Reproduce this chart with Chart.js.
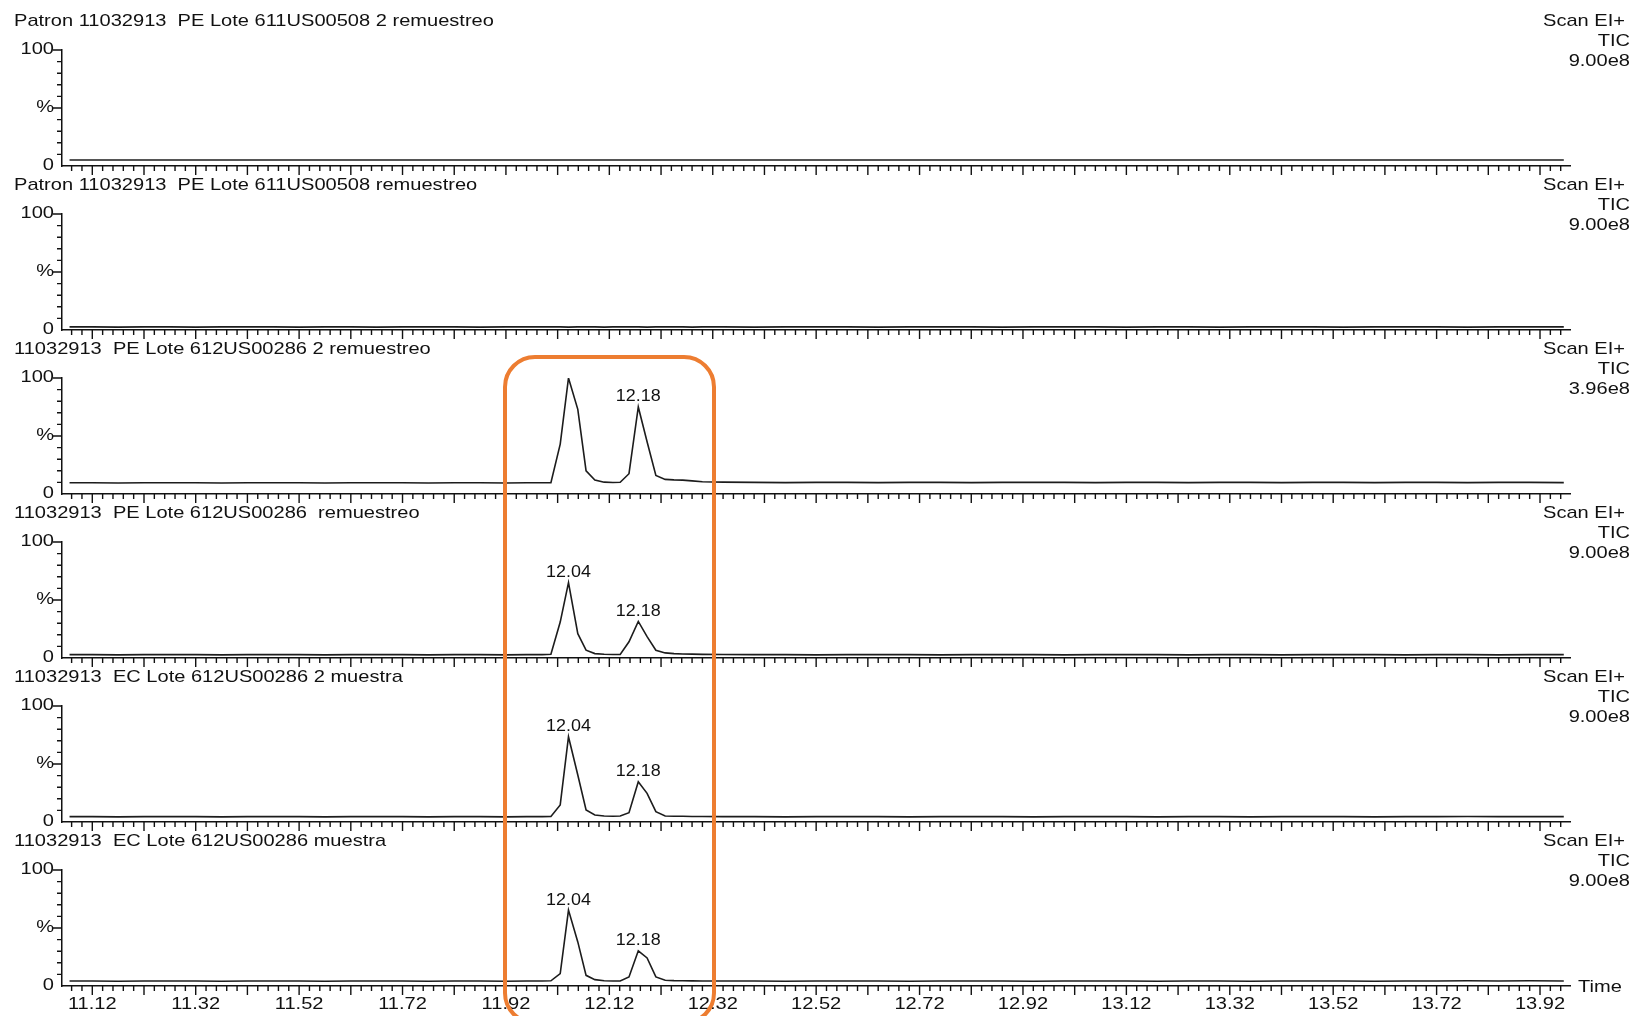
<!DOCTYPE html>
<html>
<head>
<meta charset="utf-8">
<title>TIC 11032913</title>
<script src="https://cdn.jsdelivr.net/npm/chart.js@4.4.1/dist/chart.umd.min.js"></script>
<style>
  html, body { margin: 0; padding: 0; background: #fff; overflow: hidden; }
  #page { position: relative; width: 1636px; height: 1016px; }
  #page canvas { position: absolute; left: 0; }
  #box {
    position: absolute; left: 503px; top: 355px; width: 213px; height: 670px;
    border: 4px solid #ED7D31; border-radius: 32px; box-sizing: border-box;
    pointer-events: none;
  }
</style>
</head>
<body>
<div id="page"><div id="box"></div></div>
<script>
// Retention times (min) shared by every trace
const scanTimes = [
  11.076, 11.12, 11.17, 11.22, 11.27, 11.32, 11.37, 11.42, 11.47, 11.52,
  11.57, 11.62, 11.67, 11.72, 11.77, 11.82, 11.87, 11.92, 11.96, 11.99,
  12.007, 12.025, 12.041, 12.059, 12.075, 12.092, 12.110, 12.127, 12.141, 12.158,
  12.176, 12.193, 12.210, 12.228, 12.245, 12.262, 12.280, 12.300,
  12.34, 12.40, 12.46, 12.52, 12.58, 12.64, 12.70, 12.76, 12.82, 12.88,
  12.94, 13.00, 13.06, 13.12, 13.18, 13.24, 13.30, 13.36, 13.42, 13.48,
  13.54, 13.60, 13.66, 13.72, 13.78, 13.84, 13.90, 13.966
];

// Relative intensity (%) of each TIC trace
const ticPatron2 = [
  5.2, 5.2, 5.2, 5.2, 5.2, 5.2, 5.2, 5.2, 5.2, 5.2, 5.2, 5.2, 5.2, 5.2, 5.2, 5.2, 5.2, 5.2, 5.2, 5.2,
  5.2, 5.2, 5.2, 5.2, 5.2, 5.2, 5.2, 5.2, 5.2, 5.2, 5.2, 5.2, 5.2, 5.2, 5.2, 5.2, 5.2, 5.2,
  5.2, 5.2, 5.2, 5.2, 5.2, 5.2, 5.2, 5.2, 5.2, 5.2, 5.2, 5.2, 5.2, 5.2, 5.2, 5.2, 5.2, 5.2,
  5.2, 5.2, 5.2, 5.2, 5.2, 5.2, 5.2, 5.2, 5.2, 5.2
];
const ticPatron1 = [
  2.7, 2.7, 2.5, 2.7, 2.7, 2.5, 2.7, 2.7, 2.7, 2.5, 2.7, 2.7, 2.5, 2.7, 2.7, 2.7, 2.5, 2.7, 2.7, 2.7,
  2.7, 2.7, 2.5, 2.7, 2.7, 2.7, 2.5, 2.7, 2.7, 2.7, 2.7, 2.5, 2.7, 2.7, 2.7, 2.7, 2.5, 2.7,
  2.7, 2.5, 2.7, 2.7, 2.7, 2.5, 2.7, 2.7, 2.7, 2.5, 2.7, 2.7, 2.7, 2.5, 2.7, 2.7, 2.5, 2.7,
  2.7, 2.7, 2.5, 2.7, 2.7, 2.7, 2.5, 2.7, 2.7, 2.7
];
const ticPE2 = [
  9.7, 9.7, 9.5, 9.7, 9.7, 9.7, 9.5, 9.7, 9.7, 9.7, 9.5, 9.7, 9.7, 9.7, 9.5, 9.7, 9.7, 9.5, 9.7, 9.7,
  9.7, 43, 100, 73, 20, 12, 10.2, 9.9, 10.1, 17.5, 75, 45, 16, 12.6, 12.2, 12, 11.3, 10.6,
  10.2, 10, 9.8, 10, 10, 9.8, 10, 10, 9.8, 10, 10, 10, 9.8, 10, 10, 9.8, 10, 10,
  9.8, 10, 10, 9.8, 10, 10, 9.8, 10, 10, 9.8
];
const ticPE1 = [
  2.9, 2.9, 2.7, 2.9, 2.9, 2.9, 2.7, 2.9, 2.9, 2.9, 2.7, 2.9, 2.9, 2.9, 2.7, 2.9, 2.9, 2.7, 2.9, 2.9,
  3.2, 31, 65, 21, 6.7, 3.8, 3.2, 3.0, 3.0, 14, 31.5, 18.4, 6.7, 4.4, 3.8, 3.5, 3.3, 3.1,
  3.0, 2.9, 2.9, 2.7, 2.9, 2.9, 2.9, 2.7, 2.9, 2.9, 2.9, 2.7, 2.9, 2.9, 2.9, 2.7, 2.9, 2.9,
  2.7, 2.9, 2.9, 2.9, 2.7, 2.9, 2.9, 2.7, 2.9, 2.9
];
const ticEC2 = [
  4.6, 4.6, 4.4, 4.6, 4.6, 4.6, 4.4, 4.6, 4.6, 4.6, 4.4, 4.6, 4.6, 4.6, 4.4, 4.6, 4.6, 4.4, 4.6, 4.6,
  4.8, 14.7, 73.5, 40.5, 10.3, 6, 5.2, 5.0, 5.2, 8, 34.7, 24.7, 8.9, 5.2, 5.0, 4.9, 4.8, 4.7,
  4.6, 4.6, 4.4, 4.6, 4.6, 4.6, 4.4, 4.6, 4.6, 4.6, 4.4, 4.6, 4.6, 4.6, 4.4, 4.6, 4.6, 4.4,
  4.6, 4.6, 4.6, 4.4, 4.6, 4.6, 4.8, 4.6, 4.6, 4.6
];
const ticEC1 = [
  4.3, 4.3, 4.1, 4.3, 4.3, 4.3, 4.1, 4.3, 4.3, 4.3, 4.1, 4.3, 4.3, 4.3, 4.1, 4.3, 4.3, 4.1, 4.3, 4.3,
  4.5, 10.7, 65.4, 38, 9.2, 5.5, 4.5, 4.3, 4.3, 7.8, 30.3, 24.2, 7.8, 4.9, 4.6, 4.5, 4.4, 4.3,
  4.3, 4.3, 4.1, 4.3, 4.3, 4.3, 4.1, 4.3, 4.3, 4.3, 4.1, 4.3, 4.3, 4.3, 4.1, 4.3, 4.3, 4.1,
  4.3, 4.3, 4.3, 4.1, 4.3, 4.3, 4.5, 4.3, 4.5, 4.3
];

const panelTitles = [
  'Patron 11032913  PE Lote 611US00508 2 remuestreo',
  'Patron 11032913  PE Lote 611US00508 remuestreo',
  '11032913  PE Lote 612US00286 2 remuestreo',
  '11032913  PE Lote 612US00286  remuestreo',
  '11032913  EC Lote 612US00286 2 muestra',
  '11032913  EC Lote 612US00286 muestra'
];
const panelSeries = [ticPatron2, ticPatron1, ticPE2, ticPE1, ticEC2, ticEC1];
const fullScale = ['9.00e8', '9.00e8', '3.96e8', '9.00e8', '9.00e8', '9.00e8'];
const scanMode = 'Scan EI+';
const traceType = 'TIC';
// Retention times printed above the apexes
const peakLabelTimes = [[], [], [12.18], [12.04, 12.18], [12.04, 12.18], [12.04, 12.18]];
const xTickLabels = ['11.12', '11.32', '11.52', '11.72', '11.92', '12.12', '12.32', '12.52',
                     '12.72', '12.92', '13.12', '13.32', '13.52', '13.72', '13.92'];
const yTickLabels = { 100: '100', 50: '%', 0: '0' };

const X_MIN = 11.0614, X_MAX = 13.978;
const FONT = '"Liberation Sans", Arial, Helvetica, sans-serif';
const INK = '#111';
const PANEL_STEP = 164, PANEL_TOP = 50, PANEL_H = 116;
const WIDE = 1.18;   // printed lettering is a little wider than regular Arial

Chart.defaults.font.family = FONT;
Chart.defaults.color = INK;

// minor ticks every 0.02 min, long ticks every 0.1 min
const xTickValues = [];
for (let i = 0; i <= 144; i++) xTickValues.push(+(11.08 + 0.02 * i).toFixed(2));
const isMajorX = v => Math.abs((v - 11.12) / 0.1 - Math.round((v - 11.12) / 0.1)) < 1e-6;

const page = document.getElementById('page');
const box = document.getElementById('box');

// draws text horizontally widened around its anchor point
function wideText(ctx, text, x, y, align, sx) {
  ctx.save();
  ctx.translate(x, y);
  ctx.scale(sx, 1);
  ctx.textAlign = align;
  ctx.fillText(text, 0, 0);
  ctx.restore();
}

function makePanel(k) {
  const last = k === panelSeries.length - 1;
  const H = last ? 196 : 180;
  const canvas = document.createElement('canvas');
  canvas.width = 1636; canvas.height = H;
  canvas.style.top = (PANEL_STEP * k) + 'px';
  canvas.style.width = '1636px'; canvas.style.height = H + 'px';
  page.insertBefore(canvas, box);

  const series = panelSeries[k];

  const axisMarks = {
    id: 'axisMarks',
    afterDraw(chart) {
      const { ctx, chartArea: a } = chart;
      const xs = chart.scales.x, ys = chart.scales.y;
      ctx.save();
      ctx.strokeStyle = INK;
      ctx.lineWidth = 1.4;
      ctx.beginPath();
      xs.ticks.forEach(t => {
        const px = xs.getPixelForValue(t.value);
        ctx.moveTo(px, a.bottom);
        ctx.lineTo(px, a.bottom + (isMajorX(t.value) ? 9 : 5));
      });
      ys.ticks.forEach(t => {
        if (t.value === 0) return;
        const py = ys.getPixelForValue(t.value);
        ctx.moveTo(a.left, py);
        ctx.lineTo(a.left - (t.value === 100 || t.value === 50 ? 9 : 5), py);
      });
      ctx.stroke();

      ctx.fillStyle = INK;
      ctx.font = '17px ' + FONT;
      ctx.textBaseline = 'middle';
      ys.ticks.forEach(t => {
        const lbl = yTickLabels[t.value];
        if (lbl === undefined) return;
        wideText(ctx, lbl, a.left - 8, ys.getPixelForValue(t.value) - 0.5, 'right', WIDE);
      });
      if (last) {
        xTickLabels.forEach(l => {
          wideText(ctx, l, xs.getPixelForValue(parseFloat(l)), a.bottom + 18, 'center', WIDE);
        });
        wideText(ctx, 'Time', a.right + 8, a.bottom + 1, 'left', WIDE);
      }
      ctx.restore();
    }
  };

  const panelText = {
    id: 'panelText',
    afterDraw(chart) {
      const { ctx } = chart;
      const xs = chart.scales.x, ys = chart.scales.y;
      ctx.save();
      ctx.fillStyle = INK;
      ctx.font = '17px ' + FONT;
      ctx.textBaseline = 'middle';
      wideText(ctx, panelTitles[k], 14, 21, 'left', WIDE);
      wideText(ctx, scanMode, 1625, 21, 'right', WIDE);
      wideText(ctx, traceType, 1630, 41, 'right', WIDE);
      wideText(ctx, fullScale[k], 1630, 61, 'right', WIDE);
      ctx.font = '16px ' + FONT;
      peakLabelTimes[k].forEach(lt => {
        let best = -1;
        scanTimes.forEach((t, i) => {
          if (Math.abs(t - lt) < 0.02 && (best < 0 || series[i] > series[best])) best = i;
        });
        if (best < 0) return;
        const px = xs.getPixelForValue(scanTimes[best]);
        const py = ys.getPixelForValue(series[best]);
        wideText(ctx, scanTimes[best].toFixed(2), px, py - 10, 'center', 1.12);
      });
      ctx.restore();
    }
  };

  new Chart(canvas, {
    type: 'line',
    data: {
      datasets: [{
        data: scanTimes.map((t, i) => ({ x: t, y: series[i] })),
        borderColor: '#1c1c1c',
        borderWidth: 1.6,
        pointRadius: 0,
        tension: 0,
        fill: false
      }]
    },
    options: {
      responsive: false,
      animation: false,
      devicePixelRatio: 1,
      events: [],
      layout: { padding: { top: PANEL_TOP, left: 0, right: 66, bottom: 0 } },
      plugins: { legend: { display: false }, tooltip: { enabled: false }, title: { display: false } },
      scales: {
        x: {
          type: 'linear',
          min: X_MIN,
          max: X_MAX,
          afterBuildTicks: s => { s.ticks = xTickValues.map(v => ({ value: v })); },
          afterFit: s => { s.height = H - PANEL_TOP - PANEL_H; },
          border: { display: true, color: INK, width: 1.5 },
          grid: { display: false },
          ticks: { display: false }
        },
        y: {
          min: 0,
          max: 100,
          afterFit: s => { s.width = 62; },
          border: { display: true, color: INK, width: 1.5 },
          grid: { display: false },
          ticks: { display: false, stepSize: 10, autoSkip: false }
        }
      }
    },
    plugins: [axisMarks, panelText]
  });
}

panelSeries.forEach((_, k) => makePanel(k));
</script>
</body>
</html>
